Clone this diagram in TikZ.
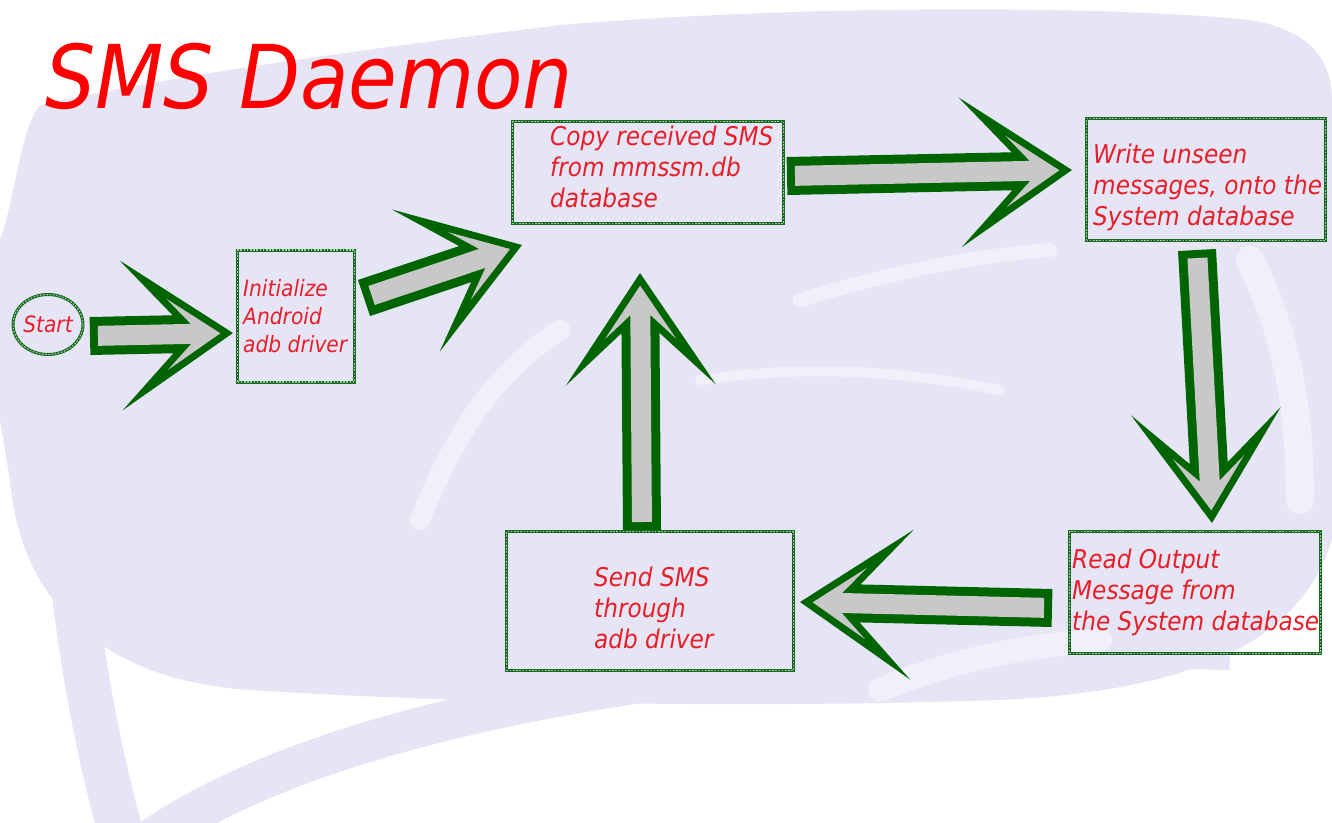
\documentclass[tikz,border=0pt]{standalone}
\usepackage{fontspec}
\setmainfont{DejaVu Sans Condensed}
\usetikzlibrary{calc,shapes.geometric}
\definecolor{lav}{RGB}{229,229,246}
\definecolor{dkg}{RGB}{0,100,0}
\definecolor{boxg}{RGB}{25,105,35}
\definecolor{lgt}{RGB}{160,205,160}
\definecolor{txt}{RGB}{232,30,40}
\definecolor{ttl}{RGB}{255,0,0}
\definecolor{agray}{RGB}{200,200,200}
\newcommand{\blockarr}[2]{%
  \path let \p1=(#1), \p2=(#2) in \pgfextra{%
    \pgfmathsetmacro\myang{atan2(\y2-\y1,\x2-\x1)}%
    \pgfmathsetmacro\mylen{veclen(\x2-\x1,\y2-\y1)}%
    \global\let\arrang\myang \global\let\arrlen\mylen};
  \begin{scope}[shift={(#1)},rotate=\arrang]
    \fill[dkg] (0pt,19pt) -- ({\arrlen pt-60pt},19pt) -- ({\arrlen pt-112pt},75pt)
      -- (\arrlen pt,0pt) -- ({\arrlen pt-112pt},-75pt) -- ({\arrlen pt-60pt},-19pt)
      -- (0pt,-19pt) -- cycle;
    \fill[agray] (8pt,10pt) -- ({\arrlen pt-42pt},10pt) -- ({\arrlen pt-66pt},35.7pt)
      -- ({\arrlen pt-12.6pt},0pt) -- ({\arrlen pt-66pt},-35.7pt) -- ({\arrlen pt-42pt},-10pt)
      -- (8pt,-10pt) -- cycle;
  \end{scope}}
\begin{document}
\begin{tikzpicture}[x=1pt,y=-1pt,
  chainbox/.style={draw=boxg, line width=3pt, inner sep=0pt,
    postaction={draw=lgt, line width=1.1pt, dash pattern=on 1.6pt off 1.6pt}},
  boxtext/.style={anchor=north west, inner sep=0pt, align=left, text=txt,
    font=\fontsize{25.8}{31}\selectfont\itshape},
  streak/.style={white, line cap=round, opacity=0.45}]
\useasboundingbox (0,0) rectangle (1332,822);
% background
\fill[white] (0,0) rectangle (1332,822);
\fill[lav] (40,105) .. controls (200,70) and (400,45) .. (560,25)
  .. controls (800,5) and (1100,5) .. (1250,20)
  .. controls (1310,30) and (1332,60) .. (1332,100) -- (1332,540)
  .. controls (1300,640) and (1200,690) .. (1000,700)
  .. controls (700,710) and (400,700) .. (250,690)
  .. controls (100,680) and (20,600) .. (10,480) -- (0,420) -- (0,240)
  .. controls (15,200) and (20,130) .. (40,105) -- cycle;
\draw[lav, line width=45pt, line cap=round] (60,430) .. controls (70,600) and (90,720) .. (120,830);
\draw[lav, line width=40pt] (150,840) .. controls (350,700) and (800,640) .. (1230,650);
\draw[streak, line width=20pt] (420,520) .. controls (460,420) and (500,370) .. (560,330);
\draw[streak, line width=14pt] (800,300) .. controls (900,270) and (980,255) .. (1050,250);
\draw[streak, line width=10pt] (700,380) .. controls (800,365) and (900,370) .. (1000,390);
\draw[streak, line width=24pt] (880,690) .. controls (950,660) and (1030,645) .. (1100,640);
\draw[streak, line width=28pt] (1250,260) .. controls (1290,340) and (1300,420) .. (1300,500);
% title
\node[anchor=base west, inner sep=0pt, text=ttl, font=\fontsize{88}{100}\selectfont\itshape] (title) at (45,108) {SMS Daemon};
% nodes
\node[chainbox, ellipse, minimum width=69pt, minimum height=60pt, text=txt,
  font=\fontsize{22.5}{26}\selectfont\itshape] (start) at (48,324.5) {Start};
\node[chainbox, minimum width=117pt, minimum height=132pt] (init) at (296,316) {};
\node[chainbox, minimum width=271pt, minimum height=102pt] (copy) at (648,172.5) {};
\node[chainbox, minimum width=239pt, minimum height=122pt] (write) at (1206,179.5) {};
\node[chainbox, minimum width=251pt, minimum height=122pt] (read) at (1195,592.5) {};
\node[chainbox, minimum width=287pt, minimum height=139pt] (send) at (650,601) {};
\node[boxtext, font=\fontsize{22.5}{28}\selectfont\itshape] (initT) at (243,279) {Initialize\\Android\\adb driver};
\node[boxtext] (copyT) at (550,126) {Copy received SMS\\from mmssm.db\\database};
\node[boxtext] (writeT) at (1093,144) {Write unseen\\messages, onto the\\System database};
\node[boxtext] (readT) at (1072,549) {Read Output\\Message from\\the System database};
\node[boxtext] (sendT) at (594,567) {Send SMS\\through\\adb driver};
% arrow ends
\coordinate (a1s) at (90,336);   \coordinate (a1e) at (233,333);
\coordinate (a2s) at (364,298);  \coordinate (a2e) at (522,245);
\coordinate (a3s) at (787,176);  \coordinate (a3e) at (1072,170);
\coordinate (a4s) at (1197,250); \coordinate (a4e) at (1212,523);
\coordinate (a5s) at (1052,608); \coordinate (a5e) at (800,602);
\coordinate (a6s) at (642,530);  \coordinate (a6e) at (640,273);
\blockarr{a1s}{a1e}
\blockarr{a2s}{a2e}
\blockarr{a3s}{a3e}
\blockarr{a4s}{a4e}
\blockarr{a5s}{a5e}
\blockarr{a6s}{a6e}
\end{tikzpicture}
\end{document}
